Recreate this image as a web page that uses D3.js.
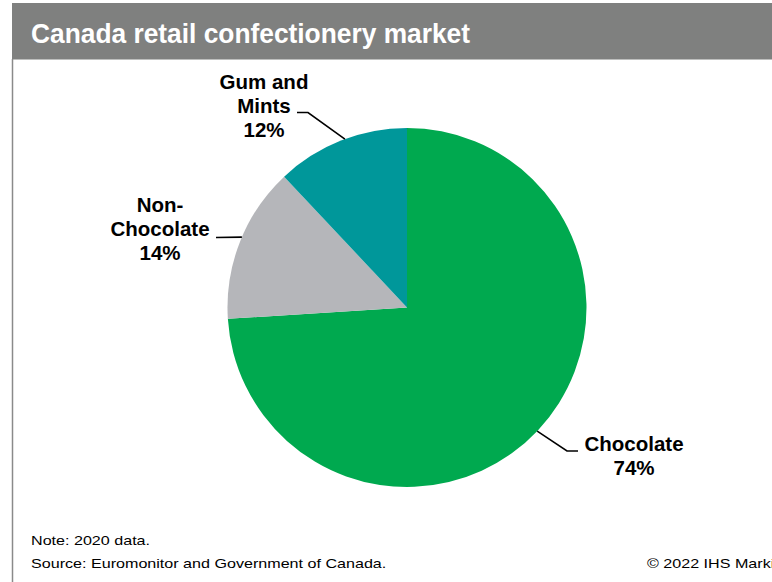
<!DOCTYPE html>
<html>
<head>
<meta charset="utf-8">
<script src="https://cdn.jsdelivr.net/npm/d3@7"></script>
<style>
  html, body { margin: 0; padding: 0; background: #fff; }
  svg { display: block; font-family: "Liberation Sans", Arial, sans-serif; }
</style>
</head>
<body>
<svg id="chart" width="772" height="582"></svg>
<script>
// Market share by segment (percent of retail confectionery sales)
const categories = ["Chocolate", "Non-Chocolate", "Gum and Mints"];
const shares = [74, 14, 12];
const labelLines = [["Chocolate"], ["Non-", "Chocolate"], ["Gum and", "Mints"]];
const colors = ["#00A94F", "#B5B6BA", "#00979A"];

const W = 772, H = 582;
const svg = d3.select("#chart");

// Header band and left frame rule
svg.append("rect").attr("x", 12).attr("y", 3).attr("width", W - 12).attr("height", 56.5).attr("fill", "#7f807f");
svg.append("line").attr("x1", 12.5).attr("x2", 12.5).attr("y1", 59).attr("y2", H).attr("stroke", "#8a8a8a").attr("stroke-width", 1.5);
svg.append("text").attr("x", 31).attr("y", 43).attr("fill", "#fff")
  .attr("font-size", 28).attr("font-weight", "bold")
  .attr("textLength", 439).attr("lengthAdjust", "spacingAndGlyphs")
  .text("Canada retail confectionery market");

// Pie
const cx = 407, cy = 307.5, r = 179.5;
const data = categories.map((c, i) => ({ name: c, value: shares[i], lines: labelLines[i], color: colors[i] }));
const pie = d3.pie().value(d => d.value).sort(null);
const arc = d3.arc().innerRadius(0).outerRadius(r);
const g = svg.append("g").attr("transform", `translate(${cx},${cy})`);
const arcs = pie(data);
g.selectAll("path").data(arcs).join("path").attr("d", arc).attr("fill", d => d.data.color);

// Label placement: text centre, first baseline, leader bend points and the
// angle (radians, clockwise from 12 o'clock) where the leader meets the slice
const layout = {
  "Chocolate":     { tx: 634, ty: 451, leader: [[578, 451], [567, 451]], edge: 2.33 },
  "Non-Chocolate": { tx: 160, ty: 212, leader: [[216, 237.5]], edge: 5.115 },
  "Gum and Mints": { tx: 264, ty: 89,  leader: [[297, 112.5], [308, 112.5]], edge: 5.93 }
};
const lineH = 24;
arcs.forEach(a => {
  const L = layout[a.data.name];
  const t = svg.append("text").attr("text-anchor", "middle").attr("font-size", 20.5)
    .attr("font-weight", "bold").attr("fill", "#000");
  const rows = a.data.lines.concat([a.data.value + "%"]);
  rows.forEach((s, i) => t.append("tspan").attr("x", L.tx).attr("y", L.ty + i * lineH).text(s));
  const pts = L.leader.concat([[cx + r * Math.sin(L.edge), cy - r * Math.cos(L.edge)]]);
  svg.append("path").attr("d", d3.line()(pts)).attr("fill", "none")
    .attr("stroke", "#000").attr("stroke-width", 1.6);
});

// Footer notes (wide-set small type)
const foot = (x, y, s) => svg.append("text")
  .attr("transform", `translate(${x},${y}) scale(1.24,1)`)
  .attr("font-size", 13).attr("fill", "#000").text(s);
foot(31, 545, "Note: 2020 data.");
foot(31, 568, "Source: Euromonitor and Government of Canada.");
foot(647, 568, "© 2022 IHS Markit");
</script>
</body>
</html>
